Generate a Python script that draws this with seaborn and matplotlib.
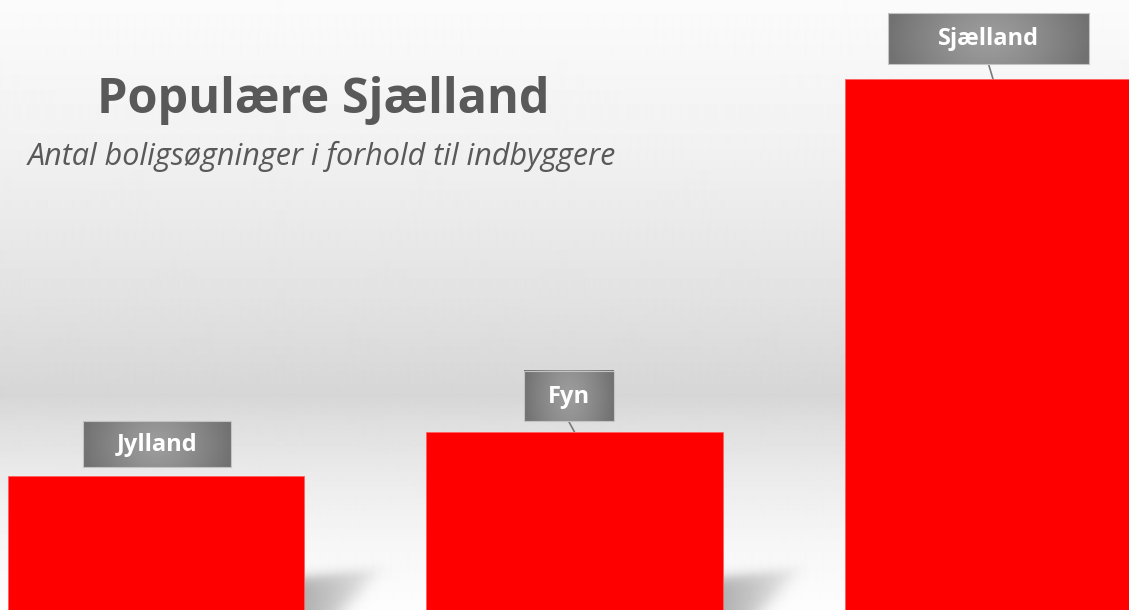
import numpy as np
import matplotlib
matplotlib.use('Agg')
import matplotlib.pyplot as plt
import seaborn as sns
from matplotlib.patches import Rectangle

# data
regions = ['Jylland', 'Fyn', 'Sjælland']
values = [1.34, 1.78, 5.31]
title = 'Populære Sjælland'
subtitle = 'Antal boligsøgninger i forhold til indbyggere'

# label box styling (pixels)
box_w = [148, 90, 201]
box_h = [46, 50, 51]
box_gap = [9, 11, 15]
box_dx = [1, -6, -4.5]
leader = [False, True, True]

W, H = 1129, 610
sns.set_theme(style='white')
plt.rcParams['font.family'] = ['Open Sans', 'DejaVu Sans']

fig = plt.figure(figsize=(W / 100, H / 100), dpi=100)
ax = fig.add_axes([0, 0, 1, 1])

sns.barplot(x=regions, y=values, color='#ff0000', saturation=1, width=0.708,
            edgecolor='#ff6060', linewidth=0.6, ax=ax, zorder=3)

x0 = -156 / 418.5
xlim = (x0, x0 + W / 418.5)
ylim = (0, 6.10)
px_x = (xlim[1] - xlim[0]) / W
px_y = (ylim[1] - ylim[0]) / H

# background gradient
stops_y = [0, 150, 300, 395, 420, 480, 540, 610]
stops_c = [251, 241, 226, 214, 222, 236, 246, 253]
col = np.interp(np.arange(H), stops_y, stops_c) / 255.0
bg = np.repeat(col[:, None], 2, axis=1)
ax.imshow(bg, cmap='gray', vmin=0, vmax=1, extent=[xlim[0], xlim[1], ylim[0], ylim[1]],
          aspect='auto', zorder=0, interpolation='bilinear')


def soft(d, s):
    return 1 / (1 + np.exp(-d / s))


# floor shadows
sw, sh = 100, 50
u, v = np.meshgrid(np.arange(sw) + 0.5, np.arange(sh)[::-1] + 0.5)
top = (v - (32 + 8 * u / 75)) * -1
right = -((u - 40) * 40 - (v - 0) * 35) / np.hypot(40, 35)
alpha = 0.30 * soft(top, 3.5) * soft(right, 5) * np.clip(1 - u / 110, 0, 1)
shadow = np.zeros((sh, sw, 4))
shadow[..., 3] = alpha
for p in ax.patches:
    r = p.get_x() + p.get_width()
    ax.imshow(shadow, extent=[r, r + sw * px_x, 0, sh * px_y], aspect='auto',
              zorder=1, interpolation='bilinear')

# label boxes
for i, p in enumerate(ax.patches):
    bc = p.get_x() + p.get_width() / 2
    bt = p.get_height()
    cx = bc + box_dx[i] * px_x
    w, h = box_w[i] * px_x, box_h[i] * px_y
    b = bt + box_gap[i] * px_y
    gx, gy = np.meshgrid(np.linspace(-1, 1, 120), np.linspace(-1, 1, 40))
    rr = np.clip(np.sqrt(gx ** 2 + (gy * 0.35) ** 2), 0, 1)
    g = (156 - 42 * rr ** 1.3) / 255.0
    ax.imshow(g, cmap='gray', vmin=0, vmax=1, extent=[cx - w / 2, cx + w / 2, b, b + h],
              aspect='auto', zorder=4, interpolation='bilinear')
    ax.add_patch(Rectangle((cx - w / 2, b), w, h, fill=False, edgecolor='#c4c4c4',
                           linewidth=0.8, zorder=5))
    ax.text(cx, b + h / 2 - 1 * px_y, regions[i], color='white', fontsize=17, fontweight='bold',
            ha='center', va='center', zorder=6)
    if leader[i]:
        ax.plot([cx, bc], [b, bt], color='#7a7a7a', linewidth=1.2, zorder=2)

ax.set_xlim(*xlim)
ax.set_ylim(*ylim)
ax.set_axis_off()

fig.text(323 / W, 1 - 101 / H, title, fontsize=35, fontweight='bold', color='#595959',
         ha='center', va='center')
fig.text(322 / W, 1 - 156 / H, subtitle, fontsize=22, style='italic', color='#595959',
         ha='center', va='center')

fig.savefig('out.png', dpi=100)
